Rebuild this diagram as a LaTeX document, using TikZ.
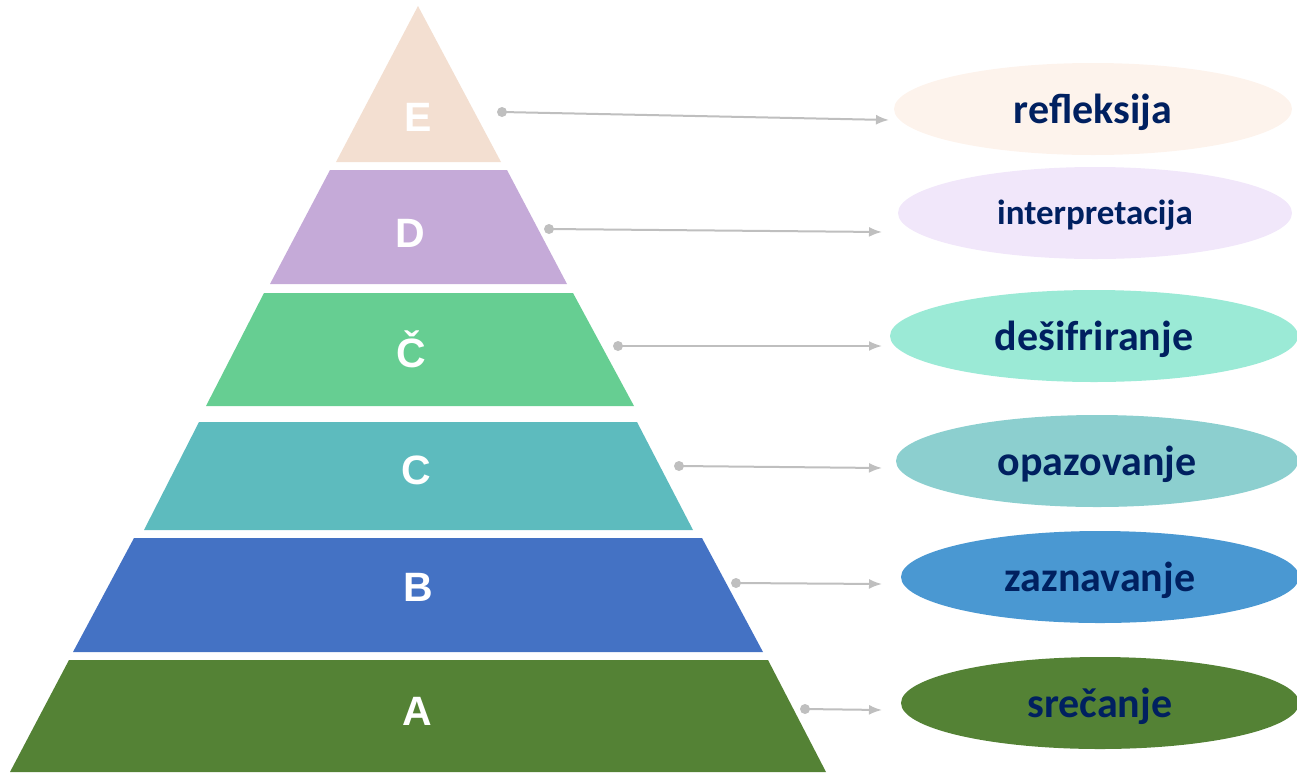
\documentclass[tikz,border=0pt]{standalone}
\usepackage{fontspec}
\setmainfont{Carlito}
\newfontfamily\letterfont{Liberation Sans}
\usetikzlibrary{shapes.geometric,arrows.meta}
\definecolor{cE}{HTML}{F3DFD1}
\definecolor{cD}{HTML}{C5AAD8}
\definecolor{cCC}{HTML}{66CE92}
\definecolor{cC}{HTML}{5DBBBE}
\definecolor{cB}{HTML}{4472C4}
\definecolor{cA}{HTML}{548235}
\definecolor{eE}{HTML}{FDF3EC}
\definecolor{eD}{HTML}{F1E7FA}
\definecolor{eCC}{HTML}{9BEAD6}
\definecolor{eC}{HTML}{8CCFCF}
\definecolor{eB}{HTML}{4A98D2}
\definecolor{eA}{HTML}{548235}
\definecolor{navy}{HTML}{002060}
\definecolor{arrowgray}{HTML}{BFBFBF}
\tikzset{
  lvl/.style={text=white, font=\letterfont\bfseries\fontsize{41}{44}\selectfont, inner sep=0pt},
  oval/.style={ellipse, minimum width=398pt, minimum height=92pt, inner sep=0pt},
  ovaltext/.style={text=navy, inner sep=0pt, font=\bfseries\fontsize{42}{46}\selectfont},
  dotnode/.style={circle, fill=arrowgray, minimum size=10pt, inner sep=0pt},
  conn/.style={draw=arrowgray, line width=2pt, -{Latex[length=13pt,width=10pt]}}
}
\begin{document}
\begin{tikzpicture}[x=1pt,y=-1pt]
\useasboundingbox (0,0) rectangle (1297,772);
% pyramid layers
\fill[cE] (418,6) -- (501,162) -- (336,162) -- cycle;
\fill[cD] (330,170) -- (507,170) -- (567,284) -- (270,284) -- cycle;
\fill[cCC] (264,293) -- (573,293) -- (634,406) -- (206,406) -- cycle;
\fill[cC] (199,422) -- (637,422) -- (693,530) -- (144,530) -- cycle;
\fill[cB] (134,538) -- (702,538) -- (763,652) -- (73,652) -- cycle;
\fill[cA] (69,660) -- (768,660) -- (826,772) -- (10,772) -- cycle;
% letters
\node[lvl] (lE) at (418,117) {E};
\node[lvl] (lD) at (410,233) {D};
\node[lvl] (lCC) at (411,349) {Č};
\node[lvl] (lC) at (416,470) {C};
\node[lvl] (lB) at (418,587) {B};
\node[lvl] (lA) at (417,711) {A};
% ovals
\node[oval, fill=eE] (oE) at (1093,109) {};
\node[oval, fill=eD, minimum width=394pt] (oD) at (1095,213) {};
\node[oval, fill=eCC, minimum width=408pt] (oCC) at (1094,336) {};
\node[oval, fill=eC, minimum width=402pt] (oC) at (1097,461) {};
\node[oval, fill=eB, minimum width=398pt] (oB) at (1100,577) {};
\node[oval, fill=eA, minimum width=398pt] (oA) at (1100,703) {};
\node[ovaltext] (tE1) at ([yshift=-3pt]oE.center) {refleksija};
\node[ovaltext, font=\bfseries\fontsize{35}{40}\selectfont] (tD1) at ([yshift=-2pt]oD.center) {interpretacija};
\node[ovaltext] (tCC1) at ([yshift=-3pt]oCC.center) {dešifriranje};
\node[ovaltext] (tC1) at ([yshift=-3pt]oC.center) {opazovanje};
\node[ovaltext] (tB1) at ([yshift=-3pt]oB.center) {zaznavanje};
\node[ovaltext] (tA1) at ([yshift=-3pt]oA.center) {srečanje};
% connectors
\node[dotnode] (dE) at (502,112) {};
\node[dotnode] (dD) at (549,229) {};
\node[dotnode] (dCC) at (618,346) {};
\node[dotnode] (dC) at (679,466) {};
\node[dotnode] (dB) at (736,583) {};
\node[dotnode] (dA) at (805,709) {};
\coordinate (tE) at (889,120);
\coordinate (tD) at (882,232);
\coordinate (tCC) at (882,346);
\coordinate (tC) at (882,468);
\coordinate (tB) at (882,584);
\coordinate (tA) at (882,710);
\draw[conn] (dE.center) -- (tE);
\draw[conn] (dD.center) -- (tD);
\draw[conn] (dCC.center) -- (tCC);
\draw[conn] (dC.center) -- (tC);
\draw[conn] (dB.center) -- (tB);
\draw[conn] (dA.center) -- (tA);
\end{tikzpicture}
\end{document}
